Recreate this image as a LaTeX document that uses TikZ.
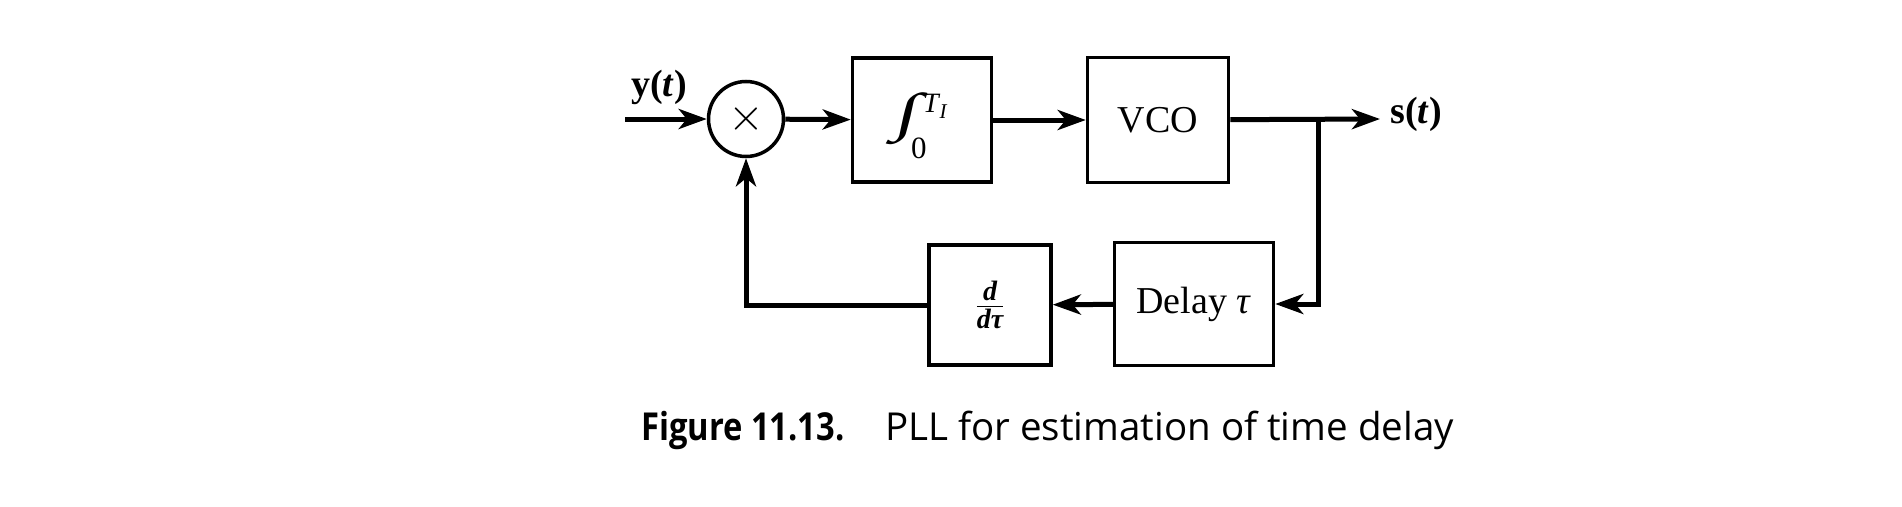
\RequirePackage{fix-cm}
\documentclass[tikz,border=0pt]{standalone}
\usepackage{amsmath}
\usepackage{graphicx}
\usepackage{fontspec}
\setmainfont{Liberation Serif}
\newfontfamily\capfont[BoldFeatures={FakeStretch=0.85}]{Open Sans}
\newfontfamily\intfont[FakeSlant=0.15]{Liberation Serif}
\usetikzlibrary{arrows.meta}
\newcommand{\fsz}[1]{\fontsize{#1}{#1}\selectfont}
\newcommand{\bigintegral}{%
  \smash{%
    \rlap{\hspace{18pt}\raisebox{-38pt}{\fsz{31}0}}%
    \rlap{\hspace{30pt}\raisebox{8pt}{\fsz{28}\itshape T\kern1pt\raisebox{-6pt}{\fsz{21}I}}}%
    \raisebox{-25pt}{\resizebox{22pt}{52pt}{\raisebox{\depth}{\intfont\fsz{40}∫}}}%
    \hspace{36pt}}%
  \rule[-30pt]{0pt}{60pt}}
\tikzset{
  blk/.style={draw, line width=3.5pt, minimum width=#1, inner sep=0pt},
  blk/.default=138pt,
  conn/.style={line width=5pt, -{Stealth[length=28pt,width=20pt,inset=8pt]}},
  lbl/.style={font=\fontsize{38}{42}\selectfont, inner sep=0pt},
  boldlbl/.style={font=\fontsize{38}{42}\selectfont\bfseries, inner sep=0pt},
  captxt/.style={anchor=base west, inner sep=0pt, font=\capfont\fontsize{38.5}{42}\selectfont},
}
\begin{document}
\begin{tikzpicture}[x=1pt,y=-1pt]
\useasboundingbox[fill=white] (0,0) rectangle (1902,506);
% top row
\coordinate (in) at (625,119);
\node[draw, circle, line width=3.5pt, minimum size=75pt, font=\fsz{46}, inner sep=0pt] (mult) at (746,119) {$\times$};
\node[blk=139pt, minimum height=124pt] (integ) at (922,120) {\bigintegral};
\node[blk=141pt, minimum height=125pt, lbl] (vco) at (1158,120) {VCO};
\coordinate (branch) at (1318,119);
\coordinate (out) at (1380,119);
\node[boldlbl] (ylab) at (659,87) {y(\textit{t})};
\node[boldlbl, anchor=west] (slab) at (1390,114) {s(\textit{t})};
% bottom row
\node[blk=159pt, minimum height=123pt, lbl] (delay) at (1194,304) {Delay \textit{τ}};
\node[blk=122pt, minimum height=120pt, lbl] (deriv) at (990,305)
  {$\frac{\mbox{\fsz{28}\bfseries\itshape d}}{\mbox{\fsz{28}\bfseries\itshape dτ}}$};
% connectors
\draw[conn] (in) -- (mult);
\draw[conn] (mult) -- (integ);
\draw[conn] (integ) -- (vco);
\draw[conn] (vco) -- (out);
\draw[conn] (branch) |- (delay);
\draw[conn] (delay) -- (deriv);
\draw[conn] (deriv) -| (mult);
% caption
\node[captxt, font=\capfont\fontsize{38.5}{42}\selectfont\bfseries] (capA) at (641,440) {Figure 11.13.};
\node[captxt] (capB) at (885,440) {PLL for estimation of time delay};
\end{tikzpicture}
\end{document}
